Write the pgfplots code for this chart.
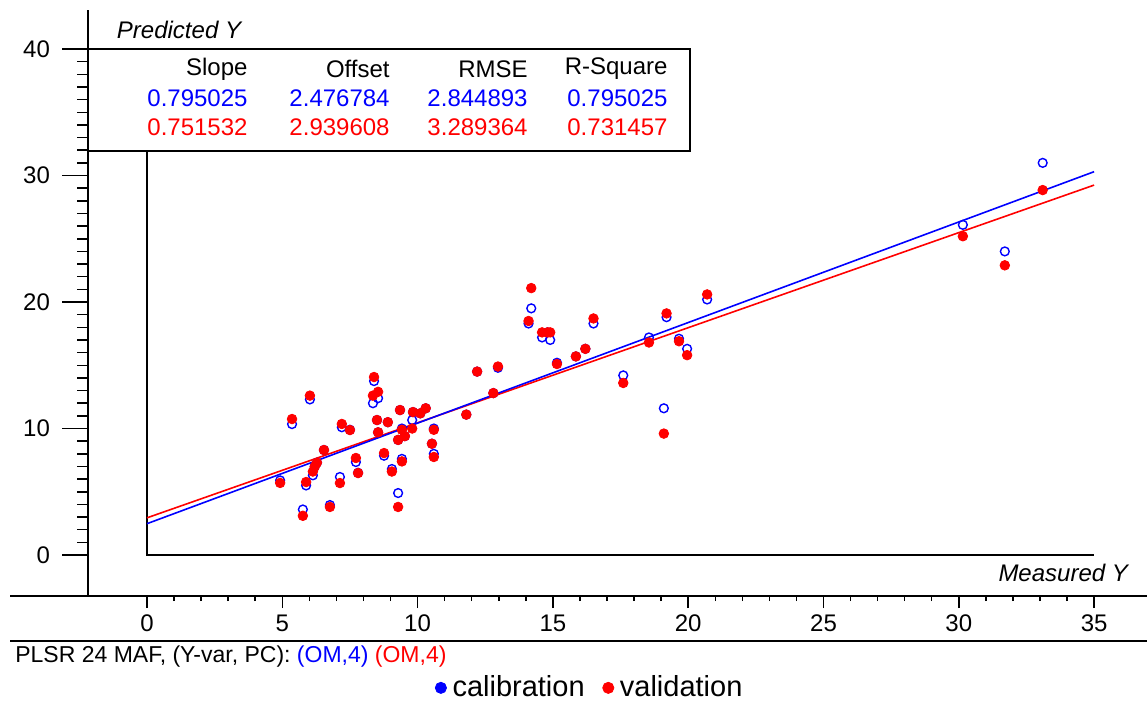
\documentclass[border=0pt]{standalone}
\usepackage{pgfplots}
\pgfplotsset{compat=1.18}
\usepackage{fontspec}
\setmainfont{Liberation Sans}
\definecolor{pblue}{RGB}{0,0,255}
\definecolor{pred}{RGB}{255,0,0}
\begin{document}
\begin{tikzpicture}
\begin{axis}[
  x=13.53pt, y=6.325pt,
  xmin=-2.18, xmax=36.95, ymin=-3.24, ymax=43.08,
  enlargelimits=false, clip=false,
  axis lines=left,
  axis line style={-, line width=0.8pt, black},
  tick align=outside,
  major tick length=6pt, minor tick length=2.5pt,
  tick style={black, line width=0.75pt},
  xtick={0,5,...,35}, minor xtick={0,...,35},
  ytick={0,10,20,30,40},
  ytick style={draw=none},
  ticklabel style={font=\fontsize{12}{14}\selectfont},
  /pgf/number format/assume math mode=true,
  yticklabel style={xshift=-9.5pt},
  legend style={at={(axis cs:16.44,-10.5)}, anchor=center, draw=none, fill=none,
    legend columns=2, font=\fontsize{14.5}{17}\selectfont,
    /tikz/every even column/.append style={column sep=6pt},
    nodes={inner xsep=3pt},
    inner sep=0pt},
  legend cell align=left,
]
% decorative frame lines
\draw[line width=0.8pt] (axis cs:-5.06,-3.24) -- (axis cs:-2.18,-3.24);
\draw[line width=0.8pt] (axis cs:-5.06,-6.80) -- (axis cs:36.95,-6.80);
\draw[line width=0.8pt] (axis cs:-2.18,40) rectangle (axis cs:20.07,31.94);
\draw[line width=0.8pt] (axis cs:0,31.94) -- (axis cs:0,0) -- (axis cs:35,0);
\pgfplotsinvokeforeach{0,10,20,30,40}{\draw[line width=0.75pt] (axis cs:-2.18,#1) -- ([xshift=-13pt]axis cs:-2.18,#1);}
\pgfplotsinvokeforeach{1,...,39}{\draw[line width=0.75pt] (axis cs:-2.18,#1) -- ([xshift=-5.5pt]axis cs:-2.18,#1);}

% axis titles
\node[anchor=west, font=\fontsize{12}{14}\selectfont\itshape] at (axis cs:-1.37,41.5) {Predicted Y};
\node[anchor=east, font=\fontsize{12}{14}\selectfont\itshape] at (axis cs:36.51,-1.42) {Measured Y};

% statistics table
\begin{scope}[every node/.style={anchor=east, font=\fontsize{12}{14}\selectfont, inner sep=0pt}]
\node at (axis cs:3.73,38.42) {Slope};
\node at (axis cs:8.98,38.42) {Offset};
\node at (axis cs:14.08,38.42) {RMSE};
\node at (axis cs:19.25,38.42) {R-Square};
\node[text=pblue] at (axis cs:3.73,36.13) {0.795025};
\node[text=pblue] at (axis cs:8.98,36.13) {2.476784};
\node[text=pblue] at (axis cs:14.08,36.13) {2.844893};
\node[text=pblue] at (axis cs:19.25,36.13) {0.795025};
\node[text=pred] at (axis cs:3.73,33.83) {0.751532};
\node[text=pred] at (axis cs:8.98,33.83) {2.939608};
\node[text=pred] at (axis cs:14.08,33.83) {3.289364};
\node[text=pred] at (axis cs:19.25,33.83) {0.731457};
\end{scope}

\node[anchor=west, inner sep=0pt, font=\fontsize{11.5}{14}\selectfont] at (axis cs:-4.88,-8.06)
  {PLSR 24 MAF, (Y-var, PC): \textcolor{pblue}{(OM,4)} \textcolor{pred}{(OM,4)}};

% regression lines
\addplot[forget plot, pred, line width=0.8pt] coordinates {(0,2.9396) (35,29.2432)};
\addplot[forget plot, pblue, line width=0.8pt] coordinates {(0,2.4768) (35,30.3027)};

% calibration (open blue)
\addplot[forget plot, only marks, mark=o, mark size=2.2pt, pblue, line width=0.7pt] table {
x y
4.92 5.9
5.36 10.35
5.76 3.6
5.88 5.5
6.02 12.3
6.13 6.3
6.20 7.0
6.28 7.3
6.54 8.3
6.76 3.95
7.13 6.17
7.20 10.1
7.50 9.9
7.72 7.35
7.80 6.5
8.35 12.0
8.39 13.75
8.54 12.4
8.50 10.67
8.54 9.7
8.76 7.85
8.90 10.5
9.05 6.8
9.28 9.1
9.28 4.9
9.35 11.46
9.42 7.6
9.42 10.0
9.53 9.4
9.80 10.67
9.83 11.3
10.10 11.2
10.30 11.6
10.53 8.8
10.60 10.0
10.60 8.0
11.80 11.1
12.20 14.5
12.80 12.8
12.97 14.8
14.10 18.3
14.20 19.5
14.60 17.2
14.80 17.6
14.90 17.0
15.15 15.2
15.85 15.7
16.20 16.3
16.50 18.3
17.60 14.2
18.55 17.2
19.10 11.6
19.20 18.8
19.66 17.1
19.96 16.3
20.70 20.2
30.15 26.1
31.70 24.0
33.10 31.0
};

% validation (filled red)
\addplot[forget plot, only marks, mark=*, mark size=2.4pt, pred, fill=pred] table {
x y
4.92 5.7
5.36 10.75
5.76 3.1
5.88 5.77
6.02 12.6
6.13 6.6
6.20 7.0
6.28 7.3
6.54 8.3
6.76 3.8
7.13 5.69
7.20 10.36
7.50 9.88
7.72 7.67
7.80 6.48
8.35 12.6
8.39 14.07
8.54 12.9
8.50 10.67
8.54 9.7
8.76 8.06
8.90 10.5
9.05 6.6
9.28 9.1
9.28 3.8
9.35 11.46
9.42 7.4
9.42 9.9
9.53 9.4
9.80 10.0
9.83 11.3
10.10 11.2
10.30 11.6
10.53 8.8
10.60 9.9
10.60 7.75
11.80 11.1
12.20 14.5
12.80 12.8
12.97 14.9
14.10 18.5
14.20 21.1
14.60 17.6
14.80 17.6
14.90 17.6
15.15 15.1
15.85 15.7
16.20 16.3
16.50 18.7
17.60 13.6
18.55 16.8
19.10 9.6
19.20 19.1
19.66 16.9
19.96 15.8
20.70 20.6
30.15 25.2
31.70 22.9
33.10 28.85
};

\addlegendimage{only marks, mark=*, mark size=2.8pt, pblue, fill=pblue}
\addlegendentry{calibration}
\addlegendimage{only marks, mark=*, mark size=2.8pt, pred, fill=pred}
\addlegendentry{validation}

\coordinate (BL) at (axis cs:-5.432,-11.462);
\coordinate (TR) at (axis cs:36.955,43.874);
\end{axis}
\pgfresetboundingbox
\path (BL) rectangle (TR);
\end{tikzpicture}
\end{document}
